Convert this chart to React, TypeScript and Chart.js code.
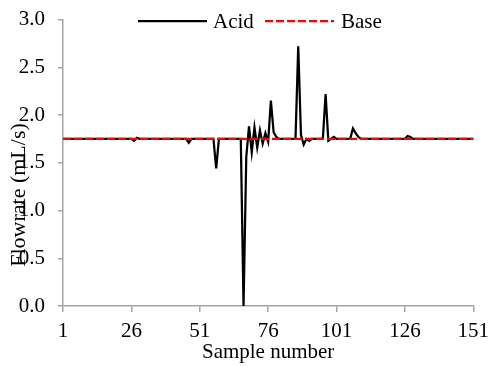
import React, { useEffect, useRef } from 'react';
import { Chart, registerables } from 'chart.js';

Chart.register(...registerables);

// Categories: sample numbers 1..151
const samples: string[] = Array.from({ length: 151 }, (_, i) => String(i + 1));
const xTickLabels = ['1', '26', '51', '76', '101', '126', '151'];
const yTickValues = [0, 0.5, 1.0, 1.5, 2.0, 2.5, 3.0];

const acidFlowrate = [
  1.75, 1.75, 1.75, 1.75, 1.75, 1.75, 1.75, 1.75, 1.75, 1.75,
  1.75, 1.75, 1.75, 1.75, 1.75, 1.75, 1.75, 1.75, 1.75, 1.75,
  1.75, 1.75, 1.75, 1.75, 1.75, 1.75, 1.73, 1.76, 1.75, 1.75,
  1.75, 1.75, 1.75, 1.75, 1.75, 1.75, 1.75, 1.75, 1.75, 1.75,
  1.75, 1.75, 1.75, 1.75, 1.75, 1.75, 1.71, 1.75, 1.75, 1.75,
  1.75, 1.75, 1.75, 1.75, 1.75, 1.75, 1.44, 1.75, 1.75, 1.75,
  1.75, 1.75, 1.75, 1.75, 1.75, 1.75, 0.00, 1.56, 1.88, 1.61,
  1.87, 1.66, 1.84, 1.70, 1.81, 1.72, 2.15, 1.82, 1.77, 1.75,
  1.75, 1.75, 1.75, 1.75, 1.75, 1.75, 2.72, 1.79, 1.69, 1.75,
  1.73, 1.75, 1.75, 1.75, 1.75, 1.75, 2.22, 1.73, 1.75, 1.77,
  1.75, 1.75, 1.75, 1.75, 1.75, 1.75, 1.86, 1.81, 1.77, 1.75,
  1.75, 1.75, 1.75, 1.75, 1.75, 1.75, 1.75, 1.75, 1.75, 1.75,
  1.75, 1.75, 1.75, 1.75, 1.75, 1.75, 1.78, 1.77, 1.75, 1.75,
  1.75, 1.75, 1.75, 1.75, 1.75, 1.75, 1.75, 1.75, 1.75, 1.75,
  1.75, 1.75, 1.75, 1.75, 1.75, 1.75, 1.75, 1.75, 1.75, 1.75,
  1.75,
];

const baseFlowrate = [
  1.75, 1.75, 1.75, 1.75, 1.75, 1.75, 1.75, 1.75, 1.75, 1.75,
  1.75, 1.75, 1.75, 1.75, 1.75, 1.75, 1.75, 1.75, 1.75, 1.75,
  1.75, 1.75, 1.75, 1.75, 1.75, 1.75, 1.75, 1.75, 1.75, 1.75,
  1.75, 1.75, 1.75, 1.75, 1.75, 1.75, 1.75, 1.75, 1.75, 1.75,
  1.75, 1.75, 1.75, 1.75, 1.75, 1.75, 1.75, 1.75, 1.75, 1.75,
  1.75, 1.75, 1.75, 1.75, 1.75, 1.75, 1.75, 1.75, 1.75, 1.75,
  1.75, 1.75, 1.75, 1.75, 1.75, 1.75, 1.75, 1.75, 1.75, 1.75,
  1.75, 1.75, 1.75, 1.75, 1.75, 1.75, 1.75, 1.75, 1.75, 1.75,
  1.75, 1.75, 1.75, 1.75, 1.75, 1.75, 1.75, 1.75, 1.75, 1.75,
  1.75, 1.75, 1.75, 1.75, 1.75, 1.75, 1.75, 1.75, 1.75, 1.75,
  1.75, 1.75, 1.75, 1.75, 1.75, 1.75, 1.75, 1.75, 1.75, 1.75,
  1.75, 1.75, 1.75, 1.75, 1.75, 1.75, 1.75, 1.75, 1.75, 1.75,
  1.75, 1.75, 1.75, 1.75, 1.75, 1.75, 1.75, 1.75, 1.75, 1.75,
  1.75, 1.75, 1.75, 1.75, 1.75, 1.75, 1.75, 1.75, 1.75, 1.75,
  1.75, 1.75, 1.75, 1.75, 1.75, 1.75, 1.75, 1.75, 1.75, 1.75,
  1.75,
];

const seriesNames = ['Acid', 'Base'];
const xTitle = 'Sample number';
const yTitle = 'Flowrate (mL/s)';

const SERIF = "'Liberation Serif', 'Times New Roman', serif";
const AXIS_GREY = '#a6a6a6';
const FONT_SIZE = 21;

const legendPlugin = {
  id: 'manualLegend',
  afterDraw(chart: any) {
    const ctx = chart.ctx;
    const layout = [
      { x0: 138, x1: 207, tx: 213 },
      { x0: 265, x1: 334, tx: 341 },
    ];
    const y = 21;
    ctx.save();
    chart.data.datasets.forEach((ds: any, i: number) => {
      const l = layout[i];
      ctx.beginPath();
      ctx.strokeStyle = ds.borderColor;
      ctx.lineWidth = ds.borderWidth;
      ctx.setLineDash(ds.borderDash || []);
      ctx.moveTo(l.x0, y);
      ctx.lineTo(l.x1, y);
      ctx.stroke();
      ctx.setLineDash([]);
      ctx.fillStyle = '#000';
      ctx.font = `${FONT_SIZE}px ${SERIF}`;
      ctx.textAlign = 'left';
      ctx.textBaseline = 'middle';
      ctx.fillText(ds.label, l.tx, y + 1);
    });
    ctx.restore();
  },
};

const yTitlePlugin = {
  id: 'yTitle',
  afterDraw(chart: any) {
    const ctx = chart.ctx;
    ctx.save();
    ctx.translate(25, 195);
    ctx.rotate(-Math.PI / 2);
    ctx.fillStyle = '#000';
    ctx.font = `22px ${SERIF}`;
    ctx.textAlign = 'center';
    ctx.textBaseline = 'alphabetic';
    ctx.fillText(yTitle, 0, 0);
    ctx.restore();
  },
};

export default function App() {
  const canvasRef = useRef<HTMLCanvasElement | null>(null);

  useEffect(() => {
    if (!canvasRef.current) return;
    const chart = new Chart(canvasRef.current, {
      type: 'line',
      data: {
        labels: samples,
        datasets: [
          {
            label: seriesNames[0],
            data: acidFlowrate,
            borderColor: '#000000',
            backgroundColor: '#000000',
            borderWidth: 2.25,
            pointRadius: 0,
            tension: 0,
            fill: false,
            order: 1,
          },
          {
            label: seriesNames[1],
            data: baseFlowrate,
            borderColor: '#ff0000',
            backgroundColor: '#ff0000',
            borderWidth: 2.25,
            borderDash: [8, 3],
            pointRadius: 0,
            tension: 0,
            fill: false,
            order: 0,
          },
        ],
      },
      options: {
        responsive: false,
        animation: false,
        devicePixelRatio: 1,
        layout: { padding: { top: 19.5, right: 16.7, left: 0, bottom: 0 } },
        plugins: {
          legend: { display: false },
          tooltip: { enabled: false },
        },
        scales: {
          x: {
            type: 'category',
            offset: false,
            grid: {
              display: true,
              drawOnChartArea: false,
              drawTicks: true,
              tickLength: 6,
              color: AXIS_GREY,
              lineWidth: 1.5,
            },
            border: { display: true, color: AXIS_GREY, width: 1.5 },
            ticks: {
              autoSkip: false,
              maxRotation: 0,
              minRotation: 0,
              padding: 7,
              color: '#000',
              font: { family: SERIF, size: FONT_SIZE },
              callback: function (this: any, value: any) {
                const lab = this.getLabelForValue(value);
                return xTickLabels.includes(lab) ? lab : null;
              },
            },
            title: {
              display: true,
              text: xTitle,
              color: '#000',
              font: { family: SERIF, size: FONT_SIZE },
              padding: { top: 0, bottom: 2 },
            },
            afterFit: (s: any) => {
              s.height = 61;
              s.paddingLeft = 0;
              s.paddingRight = 0;
            },
          },
          y: {
            min: 0,
            max: 3,
            afterBuildTicks: (s: any) => {
              s.ticks = yTickValues.map((v) => ({ value: v }));
            },
            grid: {
              display: true,
              drawOnChartArea: false,
              drawTicks: true,
              tickLength: 5,
              color: AXIS_GREY,
              lineWidth: 1.5,
            },
            border: { display: true, color: AXIS_GREY, width: 1.5 },
            ticks: {
              padding: 13,
              color: '#000',
              font: { family: SERIF, size: FONT_SIZE },
              callback: (v: any) => Number(v).toFixed(1),
            },
            afterFit: (s: any) => {
              s.width = 63;
              s.paddingTop = 0;
              s.paddingBottom = 0;
            },
          },
        },
      },
      plugins: [legendPlugin, yTitlePlugin],
    } as any);
    return () => chart.destroy();
  }, []);

  return (
    <div style={{ position: 'fixed', left: 0, top: 0, width: 490, height: 367, background: '#fff' }}>
      <canvas ref={canvasRef} width={490} height={367} style={{ display: 'block' }} />
    </div>
  );
}
